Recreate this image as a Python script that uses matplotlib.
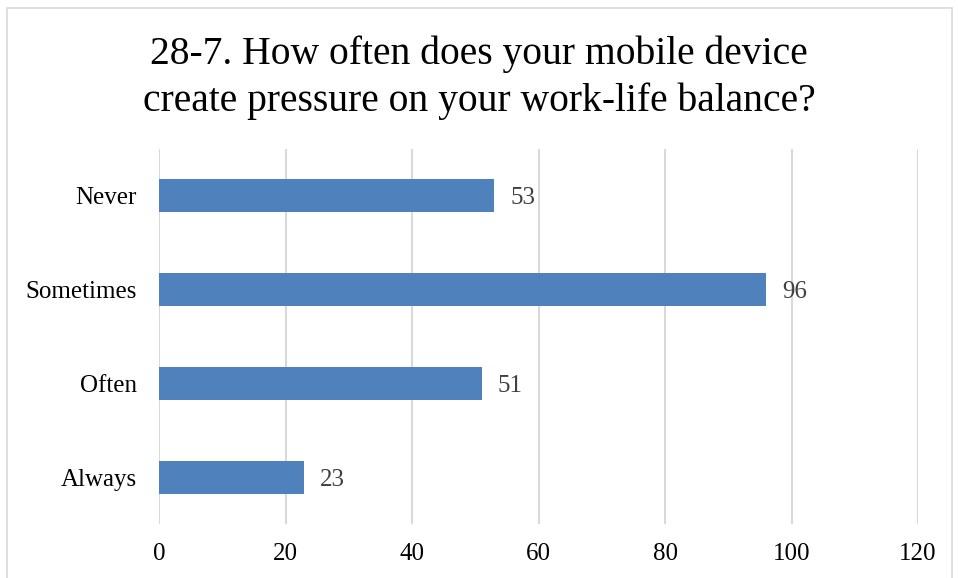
import matplotlib
matplotlib.use("Agg")
import matplotlib.pyplot as plt
from matplotlib.patches import Rectangle

plt.rcParams["font.family"] = ["Liberation Serif", "DejaVu Serif"]

categories = ["Never", "Sometimes", "Often", "Always"]
counts = [53, 96, 51, 23]
x_ticks = [0, 20, 40, 60, 80, 100, 120]
title = "28-7. How often does your mobile device\ncreate pressure on your work-life balance?"

fig = plt.figure(figsize=(9.58, 5.78), dpi=100)
ax = fig.add_axes([159 / 958, 54 / 578, 759 / 958, 375 / 578])

# outer chart border
fig.patches.append(Rectangle((7 / 958, -0.05), 945 / 958, 1.036, transform=fig.transFigure,
                             fill=False, edgecolor="#d9d9d9", linewidth=1.2))

ypos = list(range(len(categories)))
ax.barh(ypos, counts, height=0.35, color="#4f81bd", zorder=3)
for y, v in zip(ypos, counts):
    ax.text(v + 2.5, y, str(v), va="center_baseline", ha="left", fontsize=18, color="#404040")

ax.set_xlim(0, 120)
ax.set_ylim(len(categories) - 0.5, -0.5)
ax.set_xticks(x_ticks)
ax.set_yticks(ypos)
ax.set_yticklabels(categories)
ax.tick_params(axis="both", length=0, labelsize=18, colors="#000000")
ax.tick_params(axis="x", pad=14)
ax.tick_params(axis="y", pad=16)
for lbl in ax.get_yticklabels():
    lbl.set_verticalalignment("center_baseline")
ax.grid(axis="x", color="#d9d9d9", linewidth=1.5, zorder=0)
for s in ax.spines.values():
    s.set_visible(False)

fig.text(0.5, 0.866, title, ha="center", va="center", fontsize=28.5, color="#000000",
         linespacing=1.32)

fig.savefig("out.png", dpi=100)
